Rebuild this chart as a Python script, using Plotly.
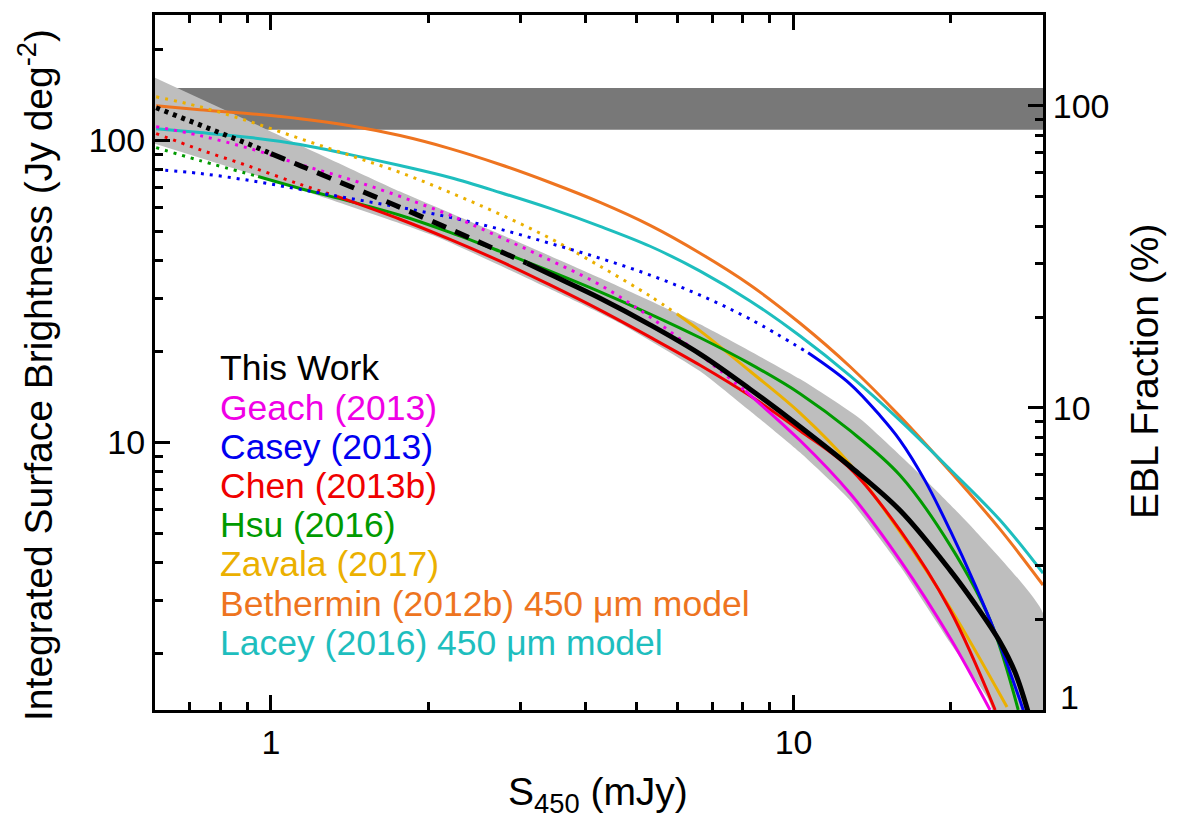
import numpy as np
import plotly.graph_objects as go

# ---------------- axis ranges / reference values ----------------
X_RANGE = [0.6, 30.0]          # S450 (mJy)
Y_RANGE = [1.3, 260.0]         # Jy deg^-2
PCT_RANGE = [1.0, 200.0]       # EBL fraction (%)
EBL_BAND = [108.5, 149.0]      # measured EBL range (Jy deg^-2)

X_TICKS = [1, 10]
X_MINOR = [0.7, 0.8, 0.9, 2, 3, 4, 5, 6, 7, 8, 9, 20]
Y_TICKS = [10, 100]
Y_MINOR = [2, 3, 4, 5, 6, 7, 8, 9, 20, 30, 40, 50, 60, 70, 80, 90, 200]
PCT_TICKS = [10, 100]
PCT_MINOR = [2, 3, 4, 5, 6, 7, 8, 9, 20, 30, 40, 50, 60, 70, 80, 90]

# ---------------- This Work ----------------
tw_x = [0.603, 0.731, 0.912, 1.0, 1.137, 1.417, 1.766, 2.201, 2.744, 3.09, 3.419, 4.263, 5.314,
        6.624, 8.255, 10.29, 12.83, 15.99, 19.93, 22.25, 24.84, 26.5, 28.1]
tw_y = [128.2, 112.7, 96.8, 90.4, 82.5, 70.4, 60.0, 50.8, 42.9, 39.2, 36.0, 30.0, 24.5,
        19.6, 15.0, 11.27, 8.32, 5.95, 3.77, 2.91, 2.18, 1.74, 1.28]
tw_dash_from = 1.0
tw_solid_from = 3.09

band_up_x = [0.6, 0.983, 1.766, 2.744, 4.263, 6.624, 10.29, 13.40, 17.46, 22.05, 30.0]
band_up_y = [161.0, 108.5, 67.7, 48.9, 35.0, 24.6, 16.2, 11.98, 7.83, 5.19, 2.72]
band_lo_x = [0.6, 1.137, 2.042, 3.685, 4.656, 6.624, 8.255, 10.29, 12.83, 15.99, 19.93, 23.55, 25.5]
band_lo_y = [97.5, 68.8, 48.5, 30.3, 24.8, 17.2, 12.7, 9.25, 6.42, 3.89, 2.17, 1.415, 1.0]

# ---------------- literature ----------------
geach_x = [0.603, 0.731, 0.912, 1.137, 1.417, 1.766, 2.201, 2.744, 3.419, 4.263, 5.314, 6.624,
           8.08, 10.29, 12.83, 15.99, 19.93, 23.76]
geach_y = [111.0, 103.7, 93.9, 83.2, 74.2, 65.2, 56.5, 47.8, 40.1, 33.2, 26.0, 19.5,
           14.8, 10.14, 6.77, 4.07, 2.25, 1.30]
geach_solid_from = 8.08

casey_x = [0.603, 0.731, 0.912, 1.137, 1.417, 1.766, 2.201, 2.744, 3.419, 4.263, 5.314, 6.624,
           8.255, 10.66, 12.83, 14.64, 15.99, 17.84, 19.93, 22.25, 24.84, 27.1, 27.7]
casey_y = [80.0, 77.7, 73.6, 68.8, 64.2, 60.0, 55.6, 50.8, 45.6, 40.7, 35.8, 30.7,
           25.6, 19.8, 15.6, 12.25, 10.14, 7.47, 5.11, 3.37, 2.13, 1.40, 1.25]
casey_solid_from = 10.66

chen_x = [0.603, 0.731, 0.912, 1.137, 1.338, 1.766, 2.201, 2.744, 3.419, 4.263, 5.314, 6.624,
          8.255, 10.29, 12.83, 15.99, 19.93, 24.3]
chen_y = [105.3, 93.2, 81.9, 71.5, 65.2, 54.8, 47.0, 39.8, 33.2, 27.4, 22.3, 18.0,
          14.26, 10.93, 8.19, 5.11, 2.78, 1.30]
chen_solid_from = 1.338

hsu_x = [0.603, 0.731, 0.945, 1.137, 1.417, 1.766, 2.201, 2.744, 3.419, 4.263, 5.314, 6.624,
         8.255, 10.29, 12.83, 15.99, 19.93, 23.76, 26.9]
hsu_y = [94.6, 85.7, 75.9, 69.3, 62.8, 56.5, 49.6, 42.9, 36.9, 31.5, 26.6, 22.2,
         18.2, 14.5, 10.93, 7.77, 4.56, 2.58, 1.30]
hsu_solid_from = 0.945

zavala_x = [0.603, 0.731, 0.912, 1.137, 1.417, 1.766, 2.201, 2.744, 3.419, 4.263, 5.314, 5.985,
            6.624, 8.255, 10.29, 12.83, 15.99, 19.93, 25.6]
zavala_y = [139.4, 129.2, 115.3, 101.3, 89.1, 78.3, 67.2, 56.9, 47.4, 38.3, 30.5, 26.6,
            23.4, 17.2, 12.5, 8.45, 5.04, 2.83, 1.33]
zavala_solid_from = 5.985

model_x = [0.603, 0.731, 0.912, 1.137, 1.417, 1.766, 2.201, 2.744, 3.419, 4.263, 5.314, 6.624,
           8.255, 10.29, 12.83, 15.99, 19.93, 24.84, 30.0]
bethermin_y = [130.2, 126.3, 122.5, 117.9, 111.8, 103.7, 93.9, 83.2, 72.5, 62.3, 52.3, 42.3,
               33.2, 24.8, 17.8, 12.17, 8.01, 5.15, 3.37]
lacey_y = [109.3, 106.1, 102.1, 96.8, 89.7, 82.5, 75.3, 67.2, 59.5, 51.9, 44.6, 36.9,
           29.4, 22.5, 16.6, 11.8, 8.13, 5.52, 3.69]

labels = ["This Work", "Geach (2013)", "Casey (2013)", "Chen (2013b)", "Hsu (2016)",
          "Zavala (2017)", "Bethermin (2012b) 450 \u03bcm model", "Lacey (2016) 450 \u03bcm model"]
colors = ["#000000", "#F000E6", "#0000F0", "#F00000", "#009A00",
          "#EBB000", "#EE7420", "#1EBEBE"]

# ---------------- figure ----------------
W, H = 1179, 819
L, R, T, B = 155, 1043, 13, 710
FONT = "Liberation Sans, Arial, Helvetica, sans-serif"


def px2paper(px, py):
    return (px - L) / (R - L), (B - py) / (B - T)


fig = go.Figure()

# uncertainty band of this work
band_x = band_up_x + [X_RANGE[1]] + band_lo_x[::-1]
band_y = band_up_y + [1.0] + band_lo_y[::-1]
fig.add_trace(go.Scatter(x=band_x, y=band_y, fill="toself", fillcolor="#BEBEBE",
                         line=dict(width=0, shape="spline", smoothing=0.5), mode="lines",
                         hoverinfo="skip", showlegend=False))

DOT = "3px,6px"
SMOOTH = 1.0


def add_curve(x, y, color, solid_from, width=3):
    x = np.asarray(x)
    y = np.asarray(y)
    if solid_from is not None:
        m = x <= solid_from
        fig.add_trace(go.Scatter(x=x[m], y=y[m], mode="lines", showlegend=False,
                                 line=dict(color=color, width=width, dash=DOT,
                                           shape="spline", smoothing=SMOOTH)))
        m2 = x >= solid_from
    else:
        m2 = np.ones_like(x, dtype=bool)
    fig.add_trace(go.Scatter(x=x[m2], y=y[m2], mode="lines", showlegend=False,
                             line=dict(color=color, width=width,
                                       shape="spline", smoothing=SMOOTH)))


add_curve(model_x, bethermin_y, colors[6], None)
add_curve(model_x, lacey_y, colors[7], None)
add_curve(zavala_x, zavala_y, colors[5], zavala_solid_from)
add_curve(hsu_x, hsu_y, colors[4], hsu_solid_from)
add_curve(chen_x, chen_y, colors[3], chen_solid_from)
add_curve(casey_x, casey_y, colors[2], casey_solid_from)
add_curve(geach_x, geach_y, colors[1], geach_solid_from)

# This work: dotted / dashed / solid
twx = np.asarray(tw_x)
twy = np.asarray(tw_y)
m = twx <= tw_dash_from
fig.add_trace(go.Scatter(x=twx[m], y=twy[m], mode="lines", showlegend=False,
                         line=dict(color="black", width=5, dash="4px,5px")))
m = (twx >= tw_dash_from) & (twx <= tw_solid_from)
fig.add_trace(go.Scatter(x=twx[m], y=twy[m], mode="lines", showlegend=False,
                         line=dict(color="black", width=5, dash="15px,10px",
                                   shape="spline", smoothing=SMOOTH)))
m = twx >= tw_solid_from
fig.add_trace(go.Scatter(x=twx[m], y=twy[m], mode="lines", showlegend=False,
                         line=dict(color="black", width=5, shape="spline", smoothing=SMOOTH)))

# invisible trace to activate the right-hand axis
fig.add_trace(go.Scatter(x=[X_RANGE[0]], y=[PCT_RANGE[0] * 0.5], yaxis="y2", mode="markers",
                         marker=dict(opacity=0), showlegend=False, hoverinfo="skip"))

# measured EBL band (drawn below)
fig.add_shape(type="rect", xref="paper", x0=0, x1=1, yref="y", y0=EBL_BAND[0], y1=EBL_BAND[1],
              fillcolor="#787878", line=dict(width=0), layer="below")

TICKFONT = dict(family=FONT, size=34, color="black")
axis_common = dict(type="log", showgrid=False, zeroline=False, showline=True,
                   linecolor="black", linewidth=3, ticks="inside", ticklen=15, tickwidth=2.5,
                   tickcolor="black", tickfont=TICKFONT, tickmode="array")

fig.update_layout(
    width=W, height=H,
    margin=dict(l=L, r=W - R, t=T, b=H - B),
    paper_bgcolor="white", plot_bgcolor="white",
    font=dict(family=FONT, color="black"),
    xaxis=dict(range=[np.log10(X_RANGE[0]), np.log10(X_RANGE[1])], tickvals=X_TICKS,
               ticktext=[str(v) for v in X_TICKS], mirror="ticks",
               minor=dict(tickmode="array", tickvals=X_MINOR, ticks="inside", ticklen=8,
                          tickwidth=2.5, tickcolor="black", showgrid=False),
               **axis_common),
    yaxis=dict(range=[np.log10(Y_RANGE[0]), np.log10(Y_RANGE[1])], tickvals=Y_TICKS,
               ticktext=[str(v) for v in Y_TICKS], mirror=False,
               minor=dict(tickmode="array", tickvals=Y_MINOR, ticks="inside", ticklen=8,
                          tickwidth=2.5, tickcolor="black", showgrid=False),
               **axis_common),
    yaxis2=dict(range=[np.log10(PCT_RANGE[0]), np.log10(PCT_RANGE[1])], tickvals=PCT_TICKS,
                ticktext=[str(v) for v in PCT_TICKS], overlaying="y", side="right",
                minor=dict(tickmode="array", tickvals=PCT_MINOR, ticks="inside", ticklen=8,
                           tickwidth=2.5, tickcolor="black", showgrid=False),
                **axis_common),
)

ann = []
# legend text
for i, (lab, col) in enumerate(zip(labels, colors)):
    xp, yp = px2paper(218, 367.5 + 39.3 * i)
    ann.append(dict(x=xp, y=yp, xref="paper", yref="paper", text=lab, showarrow=False,
                    xanchor="left", yanchor="middle", font=dict(family=FONT, size=35.5, color=col)))

# axis titles
xp, yp = px2paper(598, 795)
ann.append(dict(x=xp, y=yp, xref="paper", yref="paper", text="S<sub>450</sub> (mJy)",
                showarrow=False, xanchor="center", yanchor="middle",
                font=dict(family=FONT, size=39)))
xp, yp = px2paper(36, 374)
ann.append(dict(x=xp, y=yp, xref="paper", yref="paper",
                text="Integrated Surface Brightness (Jy deg<sup>-2</sup>)", textangle=-90,
                showarrow=False, xanchor="center", yanchor="middle",
                font=dict(family=FONT, size=39)))
xp, yp = px2paper(1145, 371)
ann.append(dict(x=xp, y=yp, xref="paper", yref="paper", text="EBL Fraction (%)", textangle=-90,
                showarrow=False, xanchor="center", yanchor="middle",
                font=dict(family=FONT, size=39)))
# bottom label of the right axis (1 %)
xp, yp = px2paper(1058, 697)
ann.append(dict(x=xp, y=yp, xref="paper", yref="paper", text="1", showarrow=False,
                xanchor="left", yanchor="middle", font=TICKFONT))

fig.update_layout(annotations=ann)
fig.write_html("out.html")
